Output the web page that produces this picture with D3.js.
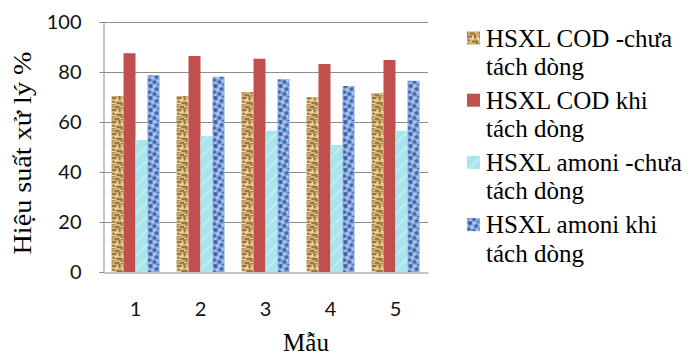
<!DOCTYPE html>
<html>
<head>
<meta charset="utf-8">
<script src="https://cdn.jsdelivr.net/npm/d3@7"></script>
<style>
  html, body { margin: 0; padding: 0; background: #fff; }
  svg { display: block; }
</style>
</head>
<body>
<svg id="chart" width="692" height="356"></svg>
<script>
// Samples (Mẫu) on the x axis
const samples = ["1", "2", "3", "4", "5"];
// Treatment efficiency (%) for each series
const codChua   = [70.4, 70.4, 72.0, 69.9, 71.5];
const codKhi    = [87.5, 86.4, 85.3, 83.2, 84.8];
const amoniChua = [52.8, 54.4, 56.5, 50.8, 56.5];
const amoniKhi  = [78.7, 78.1, 77.1, 74.4, 76.5];
const seriesNames = [
  ["HSXL COD -chưa", "tách dòng"],
  ["HSXL COD khi", "tách dòng"],
  ["HSXL amoni -chưa", "tách dòng"],
  ["HSXL amoni khi", "tách dòng"]
];
const yTicks = [0, 20, 40, 60, 80, 100];

const seriesValues = [codChua, codKhi, amoniChua, amoniKhi];
const fills = ["url(#texTan)", "#C0504D", "url(#texCyan)", "url(#texBlue)"];
const SERIF = "Liberation Serif";

const svg = d3.select("#chart");
const plot = { left: 103, right: 428, top: 22, bottom: 272 };

// ---- textures for the patterned bars ----
const defs = svg.append("defs");

const tan = defs.append("pattern").attr("id", "texTan")
  .attr("patternUnits", "userSpaceOnUse").attr("width", 12).attr("height", 12);
tan.append("rect").attr("width", 12).attr("height", 12).attr("fill", "#D4B273");
[[0,1,5,2],[7,0,2,4],[1,5,2,4],[5,6,6,2],[9,8,2,4],[3,10,5,2],[0,9,1,3]].forEach(r =>
  tan.append("rect").attr("x", r[0]).attr("y", r[1]).attr("width", r[2]).attr("height", r[3])
    .attr("fill", "#86622F").attr("opacity", 0.75));
[[5,2,2,3],[3,4,3,1],[10,3,2,3],[0,7,4,1],[8,10,3,1]].forEach(r =>
  tan.append("rect").attr("x", r[0]).attr("y", r[1]).attr("width", r[2]).attr("height", r[3])
    .attr("fill", "#F1DCA6"));

const cyan = defs.append("pattern").attr("id", "texCyan")
  .attr("patternUnits", "userSpaceOnUse").attr("width", 14).attr("height", 14);
cyan.append("rect").attr("width", 14).attr("height", 14).attr("fill", "#A9E5EC");
cyan.append("path").attr("d", "M0,14 L14,0 M-3,3 L3,-3 M11,17 L17,11")
  .attr("stroke", "#C4EFF4").attr("stroke-width", 1.6);

const blue = defs.append("pattern").attr("id", "texBlue")
  .attr("patternUnits", "userSpaceOnUse").attr("width", 12).attr("height", 12);
blue.append("rect").attr("width", 12).attr("height", 12).attr("fill", "#84A6DE");
[[3,2,2.0],[9,5,1.7],[2,8,1.5],[7,10,1.8],[11,0,1.2]].forEach(c =>
  blue.append("circle").attr("cx", c[0]).attr("cy", c[1]).attr("r", c[2]).attr("fill", "#3A5CA3"));
[[7,2,1.5],[5,6,1.4],[0,4,1.2],[10,9,1.2],[3,11,1]].forEach(c =>
  blue.append("circle").attr("cx", c[0]).attr("cy", c[1]).attr("r", c[2]).attr("fill", "#B7CDF1"));

// ---- scales ----
const x = d3.scaleBand().domain(samples).range([plot.left, plot.right])
  .paddingInner(0.2615).paddingOuter(0.1308);
const xSeries = d3.scaleBand().domain(d3.range(4)).range([0, x.bandwidth()]);
const y = d3.scaleLinear().domain([0, 100]).range([plot.bottom, plot.top]);

// ---- gridlines ----
svg.append("g").selectAll("line").data(yTicks.filter(t => t > 0)).join("line")
  .attr("x1", plot.left).attr("x2", plot.right)
  .attr("y1", d => y(d) + 0.5).attr("y2", d => y(d) + 0.5)
  .attr("stroke", "#8C8C8C").attr("stroke-width", 1);

// ---- bars ----
const groups = svg.append("g").selectAll("g").data(samples).join("g")
  .attr("transform", d => `translate(${x(d)},0)`);
groups.selectAll("rect")
  .data((d, i) => seriesValues.map((vals, s) => ({ s, v: vals[i] })))
  .join("rect")
  .attr("x", d => xSeries(d.s))
  .attr("width", xSeries.bandwidth())
  .attr("y", d => y(d.v))
  .attr("height", d => y(0) - y(d.v))
  .attr("fill", d => fills[d.s]);

// ---- axes ----
const yAxis = svg.append("g").attr("transform", `translate(${plot.left + 0.5},0)`)
  .call(d3.axisLeft(y).tickValues(yTicks).tickSize(4).tickPadding(18));
const xAxis = svg.append("g").attr("transform", `translate(0,${plot.bottom + 0.5})`)
  .call(d3.axisBottom(x).tickSize(0).tickPadding(29));
[yAxis, xAxis].forEach(a => {
  a.select(".domain").attr("stroke", "#8C8C8C");
  a.selectAll(".tick line").attr("stroke", "#8C8C8C");
  a.selectAll("text").attr("font-family", "Lato, 'Open Sans', sans-serif")
    .attr("font-size", 20).attr("fill", "#111");
});

// ---- axis titles ----
svg.append("text")
  .attr("transform", "translate(31,153) rotate(-90)")
  .attr("text-anchor", "middle")
  .style("font-family", SERIF)
  .attr("font-size", 25).attr("fill", "#000")
  .attr("textLength", 203).attr("lengthAdjust", "spacingAndGlyphs")
  .text("Hiệu suất xử lý %");

svg.append("text")
  .attr("x", 306).attr("y", 351)
  .attr("text-anchor", "middle")
  .style("font-family", SERIF)
  .attr("font-size", 25).attr("fill", "#000")
  .text("Mẫu");

// ---- legend ----
const legend = svg.append("g").selectAll("g").data(seriesNames).join("g")
  .attr("transform", (d, i) => `translate(467,${46.5 + i * 62.2})`);
legend.append("rect")
  .attr("x", 0).attr("y", -15).attr("width", 13).attr("height", 13)
  .attr("fill", (d, i) => fills[i]);
legend.append("text")
  .attr("x", 19).attr("y", 0)
  .style("font-family", SERIF)
  .attr("font-size", 25).attr("fill", "#000")
  .text(d => d[0]);
legend.append("text")
  .attr("x", 19).attr("y", 28.5)
  .style("font-family", SERIF)
  .attr("font-size", 25).attr("fill", "#000")
  .text(d => d[1]);
</script>
</body>
</html>
